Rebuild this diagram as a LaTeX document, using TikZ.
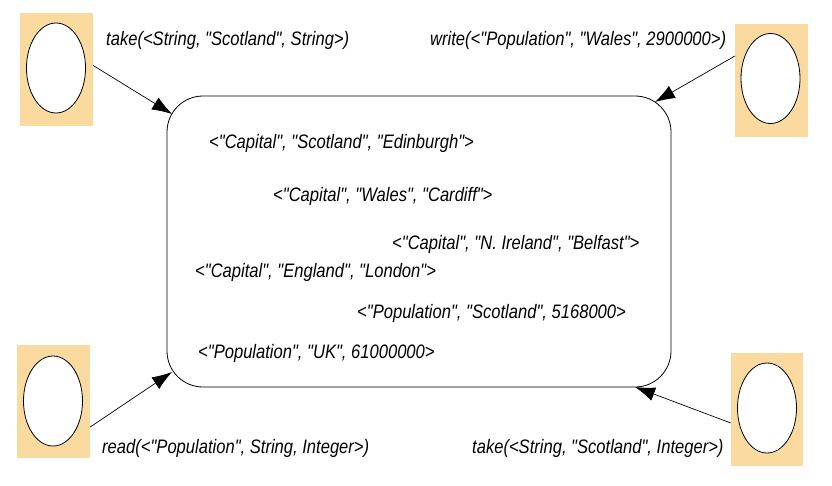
\documentclass[tikz,border=0pt]{standalone}
\usepackage{fontspec}
\setmainfont{Liberation Sans}[FakeStretch=0.85, Ligatures=TeXOff]
\usetikzlibrary{arrows.meta,shapes.geometric}
\definecolor{peach}{RGB}{251,218,160}
\begin{document}
\begin{tikzpicture}[x=1pt,y=-1pt,
  lbl/.style={font=\fontsize{19.5}{22}\selectfont\itshape, inner sep=0pt, anchor=base west},
  agentbox/.style={fill=peach, draw=none, minimum width=73pt, minimum height=113pt, inner sep=0pt},
  agent/.style={ellipse, draw=black, fill=white, line width=0.8pt, minimum width=59pt, minimum height=90pt, inner sep=0pt},
  flow/.style={draw=black, line width=0.7pt, -{Latex[length=20pt,width=14pt]}}]
\useasboundingbox (0,0) rectangle (832,485);
\fill[white] (0,0) rectangle (832,485);
% tuple space
\node[draw=black, line width=0.8pt, rounded corners=36pt, minimum width=504pt, minimum height=291pt, inner sep=0pt] (space) at (419,241.5) {};
% agents
\node[agentbox] (tlbox) at (56.5,69.5) {};
\node[agent] (tl) at (56,68) {};
\node[agentbox] (trbox) at (771.5,80.5) {};
\node[agent] (tr) at (770.5,78.5) {};
\node[agentbox] (blbox) at (53.5,401.5) {};
\node[agent] (bl) at (53,401) {};
\node[agentbox, minimum width=72pt] (brbox) at (767,409.5) {};
\node[agent] (br) at (767,408) {};
% arrow tips on the space
\coordinate (t1) at (172,114);
\coordinate (t2) at (655,102);
\coordinate (t3) at (172,372);
\coordinate (t4) at (635,387);
\draw[flow] ([yshift=4pt]tlbox.east) -- (t1);
\draw[flow] ([yshift=24.5pt]trbox.west) -- (t2);
\draw[flow] ([yshift=-25.5pt]blbox.east) -- (t3);
\draw[flow] ([yshift=-13.5pt]brbox.west) -- (t4);
% operation labels
\node[lbl] (op1) at (106,45) {take(<String, "Scotland", String>)};
\node[lbl] (op2) at (430,45) {write(<"Population", "Wales", 2900000>)};
\node[lbl] (op3) at (102,453) {read(<"Population", String, Integer>)};
\node[lbl] (op4) at (472,453) {take(<String, "Scotland", Integer>)};
% tuples
\node[lbl] (c1) at (209,148) {<"Capital", "Scotland", "Edinburgh">};
\node[lbl] (c2) at (273,201) {<"Capital", "Wales", "Cardiff">};
\node[lbl] (c3) at (392,249) {<"Capital", "N. Ireland", "Belfast">};
\node[lbl] (c4) at (195,277) {<"Capital", "England", "London">};
\node[lbl] (c5) at (357,318) {<"Population", "Scotland", 5168000>};
\node[lbl] (c6) at (198,358) {<"Population", "UK", 61000000>};
\end{tikzpicture}
\end{document}
